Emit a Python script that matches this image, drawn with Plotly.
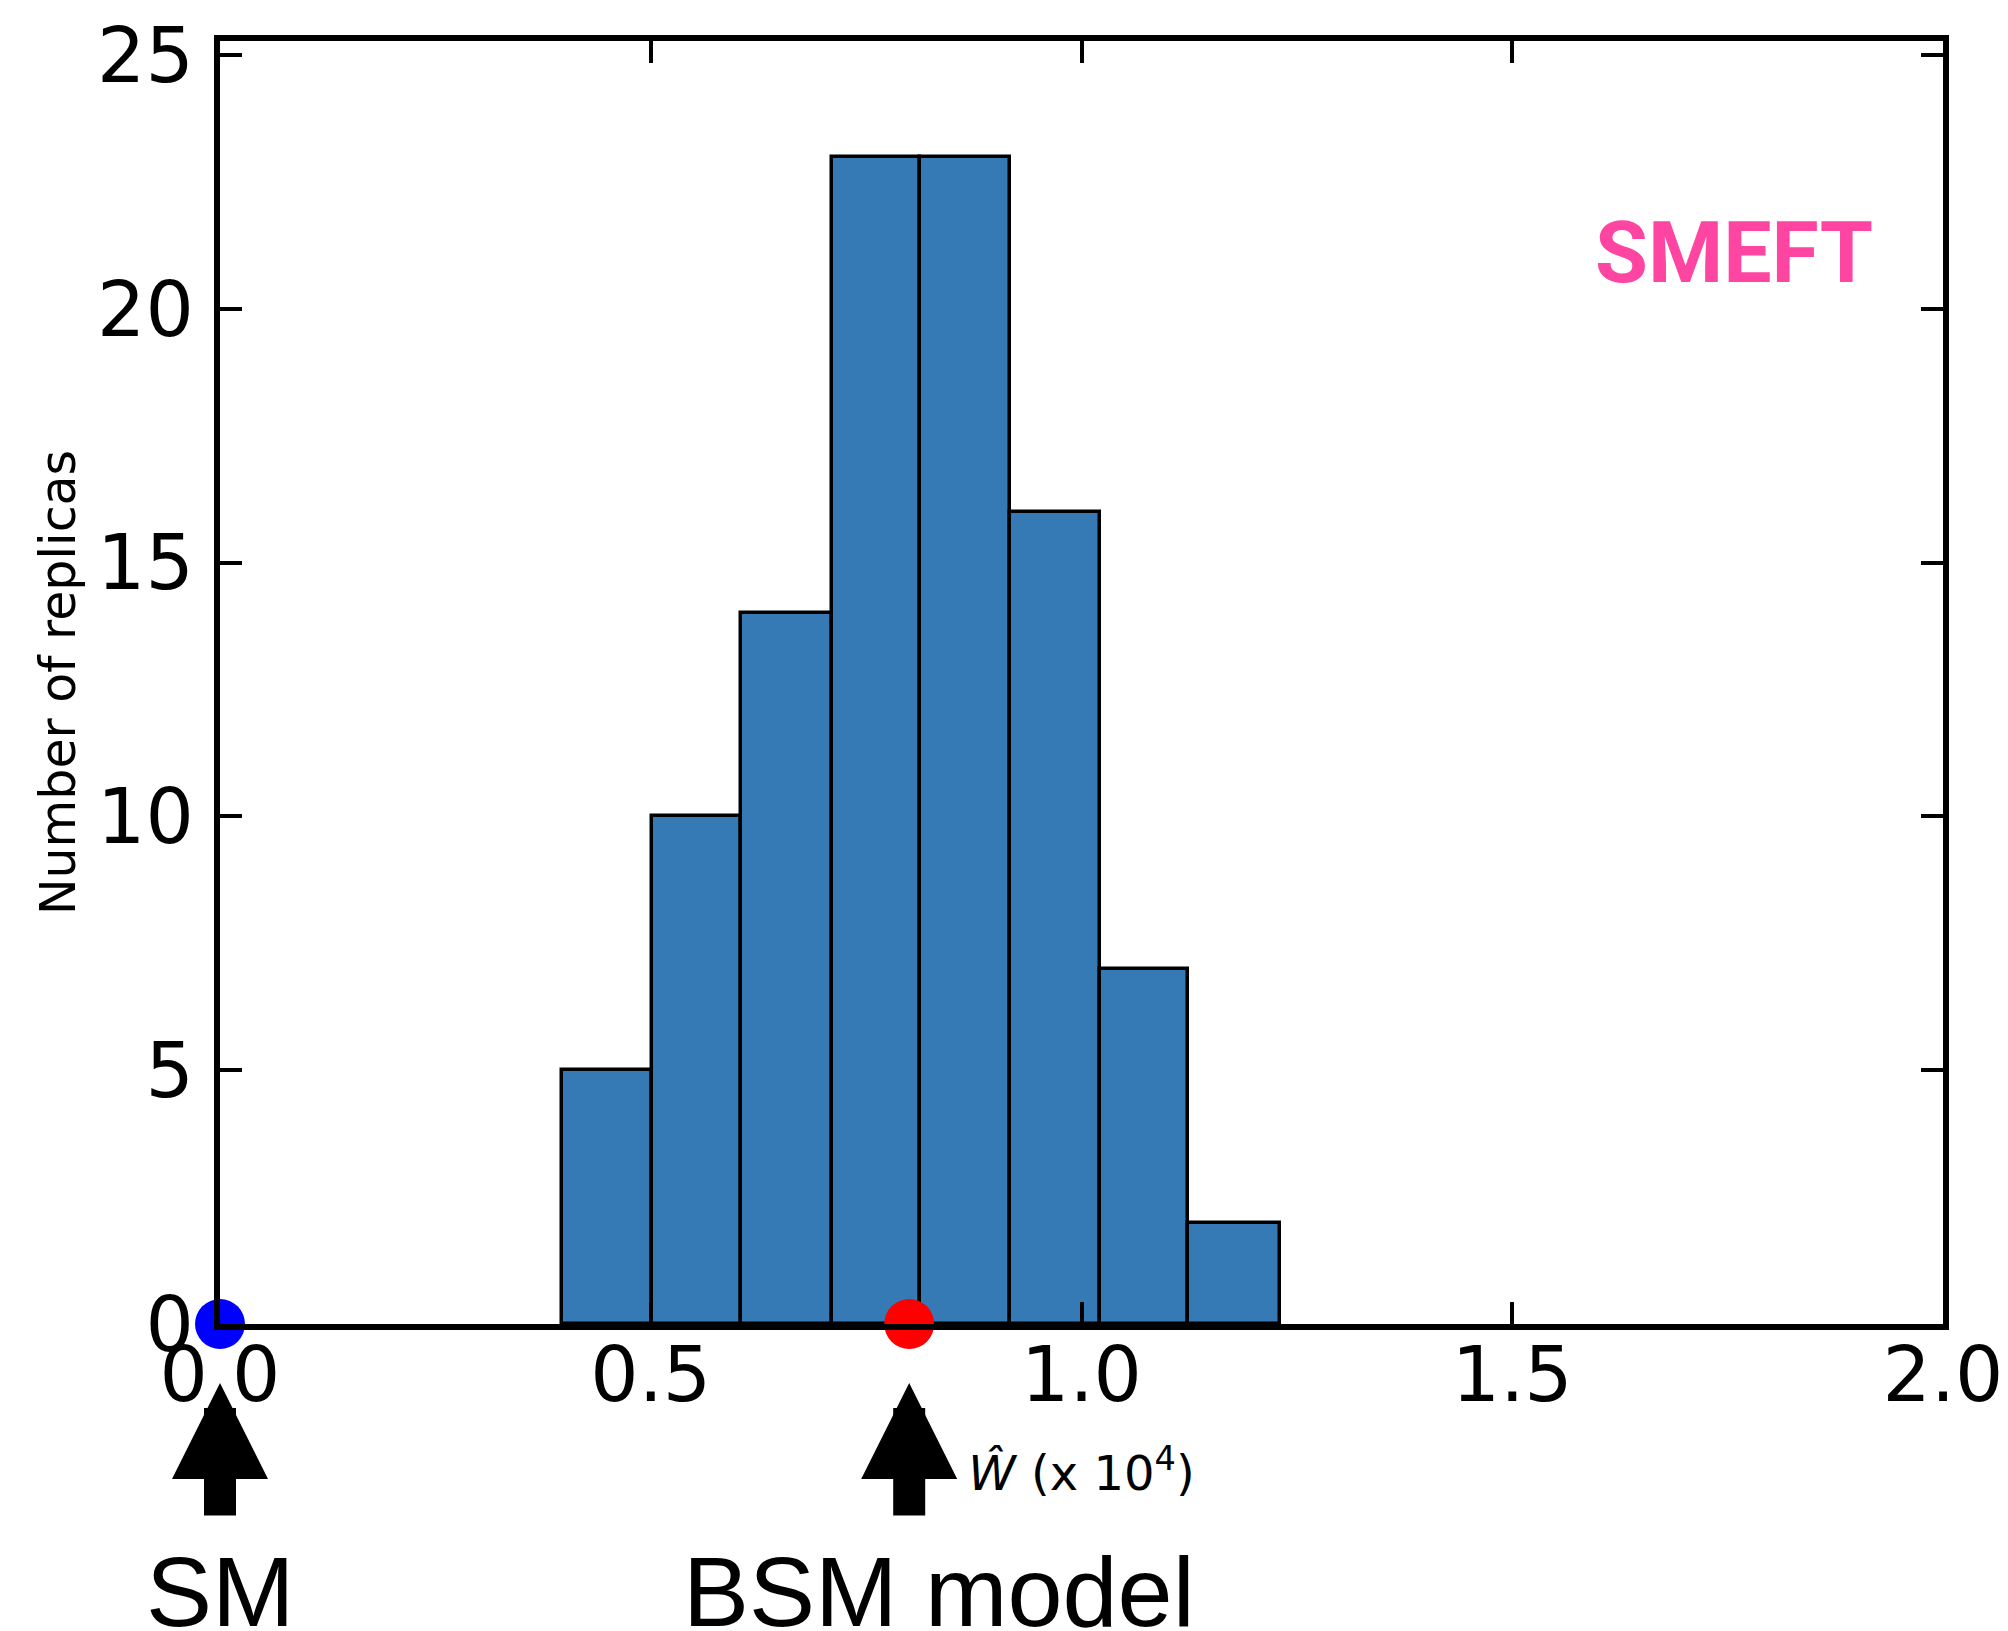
import plotly.graph_objects as go

# ---- data ----
bin_edges = [0.397, 0.501, 0.605, 0.710, 0.812, 0.917, 1.021, 1.124, 1.230]
counts = [5, 10, 14, 23, 23, 16, 7, 2]
x_ticks = [0.0, 0.5, 1.0, 1.5, 2.0]
x_tick_labels = ["0.0", "0.5", "1.0", "1.5", "2.0"]
y_ticks = [0, 5, 10, 15, 20, 25]
point_x = [0.0, 0.8]
point_y = [0, 0]
point_colors = ["#0000FF", "#FF0000"]
model_labels = ["SM", "BSM model"]
model_x = [0.0, 0.8]

centers = [(a + b) / 2 for a, b in zip(bin_edges[:-1], bin_edges[1:])]
widths = [b - a for a, b in zip(bin_edges[:-1], bin_edges[1:])]

fig = go.Figure()
fig.add_trace(go.Bar(
    x=centers, y=counts, width=widths,
    marker=dict(color="#3579B5", line=dict(color="black", width=3.5)),
    showlegend=False,
))
fig.add_trace(go.Scatter(
    x=point_x, y=point_y, mode="markers",
    marker=dict(color=point_colors, size=50, line=dict(width=0)),
    cliponaxis=False, showlegend=False,
))

axis_common = dict(
    showline=True, linecolor="black", linewidth=6, mirror="ticks",
    ticks="inside", ticklen=22, tickwidth=4, tickcolor="black",
    showgrid=False, zeroline=False, automargin=False,
    ticklabeloverflow="allow",
    tickfont=dict(family="DejaVu Sans", size=76, color="black"),
)

# page body has an 8px default margin, so the figure is 8px smaller
fig.update_layout(
    width=2000, height=1623,
    margin=dict(l=212, r=65, t=33, b=307),
    plot_bgcolor="white", paper_bgcolor="white",
    bargap=0,
    xaxis=dict(
        range=[0, 2], tickvals=x_ticks, ticktext=x_tick_labels,
        ticklabelstandoff=-20,
        title=dict(text="<i>Ŵ</i> (x 10<sup>4</sup>)",
                   font=dict(family="DejaVu Sans", size=48, color="black"),
                   standoff=40),
        **axis_common,
    ),
    yaxis=dict(
        range=[0, 25.28], tickvals=y_ticks,
        ticklabelstandoff=5,
        title=dict(text="Number of replicas",
                   font=dict(family="DejaVu Sans", size=49, color="black"),
                   standoff=8),
        **axis_common,
    ),
)

# up-arrows below the axis
for xv in model_x:
    fig.add_annotation(
        x=xv, y=0, xref="x", yref="paper",
        ax=0, ay=193, axref="pixel", ayref="pixel",
        text="", showarrow=True, arrowhead=2, arrowsize=0.6,
        arrowwidth=32, arrowcolor="black", standoff=59,
    )

# model labels
shifts = [0, 30]
for lab, xv, sh in zip(model_labels, model_x, shifts):
    fig.add_annotation(
        x=xv, y=0, xref="x", yref="paper", xshift=sh, yshift=-267,
        text=lab, showarrow=False, xanchor="center", yanchor="middle",
        font=dict(family="Liberation Sans, Arial", size=99, color="black"),
    )

fig.add_annotation(
    x=0.8787, y=0.8354, xref="paper", yref="paper",
    text="<b>SMEFT</b>", showarrow=False, xanchor="center", yanchor="middle",
    font=dict(family="Roboto", size=86, color="#FF45A2"),
)

fig.write_html("out.html")
